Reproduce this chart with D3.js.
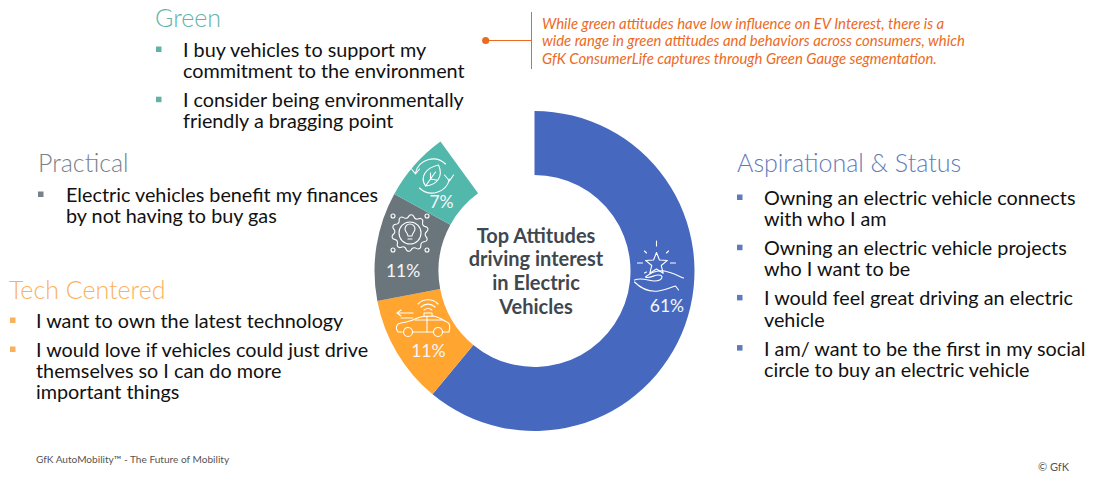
<!DOCTYPE html>
<html>
<head>
<meta charset="utf-8">
<script src="https://cdn.jsdelivr.net/npm/d3@7"></script>
<style>
  html, body { margin: 0; padding: 0; background: #fff; }
  svg { display: block; font-family: Lato, "Open Sans", sans-serif; }
</style>
</head>
<body>
<div id="chart"></div>
<script>
// slices (they only add up to 90, the ring stays open at the top left)
var segments = ["Aspirational & Status", "Tech Centered", "Practical", "Green"];
var shares = [61, 11, 11, 7];
var sliceColors = ["#4669BF", "#FFA530", "#6B767C", "#52B8AC"];
var wholeRing = 100;
var centerLines = ["Top Attitudes", "driving interest", "in Electric", "Vehicles"];

var greenBullets = [["I buy vehicles to support my", "commitment to the environment"],
                    ["I consider being environmentally", "friendly a bragging point"]];
var practicalBullets = [["Electric vehicles benefit my finances", "by not having to buy gas"]];
var techBullets = [["I want to own the latest technology"],
                   ["I would love if vehicles could just drive", "themselves so I can do more", "important things"]];
var aspirationalBullets = [["Owning an electric vehicle connects", "with who I am"],
                           ["Owning an electric vehicle projects", "who I want to be"],
                           ["I would feel great driving an electric", "vehicle"],
                           ["I am/ want to be the first in my social", "circle to buy an electric vehicle"]];
var noteLines = ["While green attitudes have low influence on EV Interest, there is a",
                 "wide range in green attitudes and behaviors across consumers, which",
                 "GfK ConsumerLife captures through Green Gauge segmentation."];

var width = 1101, height = 483;
var cx = 534.5, cy = 271, outerR = 160, innerR = 96;

var svg = d3.select("#chart").append("svg")
    .attr("width", width)
    .attr("height", height);

// donut
var pie = d3.pie().sort(null).startAngle(0)
    .endAngle(2 * Math.PI * d3.sum(shares) / wholeRing);
var arc = d3.arc().innerRadius(innerR).outerRadius(outerR);

var donut = svg.append("g").attr("transform", "translate(" + cx + "," + cy + ")");
donut.selectAll("path")
    .data(pie(shares))
    .enter().append("path")
    .attr("d", arc)
    .attr("fill", function (d, i) { return sliceColors[i]; });

// label offset from each slice centroid
var labelNudge = [[12, -2], [4, 21], [-5, 26], [3, 22]];
donut.selectAll("text.pct")
    .data(pie(shares))
    .enter().append("text")
    .attr("class", "pct")
    .text(function (d) { return d.value + "%"; })
    .attr("text-anchor", "middle")
    .attr("x", function (d, i) { return arc.centroid(d)[0] + labelNudge[i][0]; })
    .attr("y", function (d, i) { return arc.centroid(d)[1] + labelNudge[i][1]; })
    .attr("fill", "#f4f6fa")
    .attr("font-size", 17.5)
    .attr("font-weight", 400);

// center text
svg.selectAll("text.center")
    .data(centerLines)
    .enter().append("text")
    .attr("class", "center")
    .text(function (d) { return d; })
    .attr("x", 536)
    .attr("y", function (d, i) { return 242.5 + i * 23.7; })
    .attr("text-anchor", "middle")
    .attr("fill", "#3F474F")
    .attr("font-size", 20)
    .attr("font-weight", 700);

// text blocks around the ring
function block(title, color, titleX, titleY, squareX, textX, firstY, gap, items) {
    svg.append("text").text(title)
        .attr("x", titleX).attr("y", titleY)
        .attr("fill", color)
        .attr("font-size", 25)
        .attr("font-weight", 300);
    var y = firstY;
    items.forEach(function (lines) {
        svg.append("rect")
            .attr("x", squareX).attr("y", y - 10.5)
            .attr("width", 5.5).attr("height", 5.5)
            .attr("fill", color);
        lines.forEach(function (line, j) {
            svg.append("text").text(line)
                .attr("x", textX).attr("y", y + j * 21.2)
                .attr("fill", "#111")
                .attr("font-size", 19.8);
        });
        y += (lines.length - 1) * 21.2 + gap;
    });
}
block("Green", "#62B3A6", 155, 27, 156, 183, 57, 29, greenBullets);
block("Practical", "#78828A", 38, 172, 38, 66, 202, 29, practicalBullets);
block("Tech Centered", "#FBB15C", 9, 299, 10, 36, 328, 29, techBullets);
block("Aspirational & Status", "#5F7CB8", 737, 172, 737, 764, 205, 29, aspirationalBullets);

// note with its leader line
var noteColor = "#EC6A1E";
svg.append("line").attr("x1", 531.5).attr("x2", 531.5).attr("y1", 12).attr("y2", 69)
    .attr("stroke", noteColor).attr("stroke-width", 1);
svg.append("line").attr("x1", 486).attr("x2", 531.5).attr("y1", 40.5).attr("y2", 40.5)
    .attr("stroke", noteColor).attr("stroke-width", 1);
svg.append("circle").attr("cx", 485.7).attr("cy", 40.5).attr("r", 3.6).attr("fill", noteColor);
svg.selectAll("text.note")
    .data(noteLines)
    .enter().append("text")
    .attr("class", "note")
    .text(function (d) { return d; })
    .attr("x", 542)
    .attr("y", function (d, i) { return 29 + i * 17.4; })
    .attr("fill", noteColor)
    .attr("font-size", 14.9)
    .attr("font-style", "italic");

// footer
svg.append("text").text("GfK AutoMobility\u2122 - The Future of Mobility")
    .attr("x", 36).attr("y", 463)
    .attr("fill", "#555").attr("font-size", 10.1);
svg.append("text").text("\u00A9 GfK")
    .attr("x", 1038).attr("y", 471)
    .attr("fill", "#555").attr("font-size", 11);

// line icons
function icon(x, y) {
    return svg.append("g")
        .attr("transform", "translate(" + x + "," + y + ")")
        .attr("fill", "none")
        .attr("stroke", "#fff")
        .attr("stroke-width", 1.1)
        .attr("stroke-linecap", "round")
        .attr("stroke-linejoin", "round");
}

// star in a hand
var star = icon(656.5, 262);
var starPts = d3.range(10).map(function (i) {
    var a = i * Math.PI / 5, r = i % 2 ? 5 : 11.5;
    return [r * Math.sin(a), -r * Math.cos(a)];
});
star.append("path").attr("d", d3.line()(starPts) + "Z").attr("transform", "translate(0,2)");
star.append("path").attr("d", "M0,-21V-16M-19,1H-14M14,1H19M-12,-11L-10,-9M12,-11L10,-9M-12,11L-10,10");
star.append("path").attr("d", "M-22,18C-14,15 -8,19 -2,19C6,19 8,13 2,13C-3,13 -7,17 -11,15C-5,10 2,8 8,9C14,10 20,13 27,16");
star.append("path").attr("d", "M-22,20C-14,28 -6,30 2,29C10,28 15,25 19,24L22,28");

// car with signal
var car = icon(423, 326);
car.append("path").attr("d", "M-21,6H-25C-28,2 -27,-2 -22,-3C-16,-4 -12,-5 -8,-7C-3,-10 3,-10 10,-10C16,-9 20,-6 24,-4C27,-3 27,2 26,6H20M10,6H-10");
car.append("circle").attr("cx", -15).attr("cy", 6).attr("r", 4.5);
car.append("circle").attr("cx", 15).attr("cy", 6).attr("r", 4.5);
car.append("path").attr("d", "M-8,-6H20M4,-10V6");
car.append("path").attr("d", "M1,-10V-13H9V-10");
car.append("path").attr("d", "M1,-16A6,6 0 0 1 9,-16M-2,-19A10,10 0 0 1 12,-19M-5,-22A14,14 0 0 1 15,-22");
car.append("path").attr("d", "M-26,-13H-10M-26,-13L-22,-16M-26,-13L-22,-10M-22,-8H-10");

// gear with bulb
var gear = icon(410, 233);
var teeth = 10;
var gearPts = d3.range(teeth * 4).map(function (i) {
    var a = i * Math.PI / (teeth * 2), r = (i % 4 < 2) ? 18 : 15.5;
    return [r * Math.sin(a), -r * Math.cos(a)];
});
gear.append("path").attr("d", d3.line().curve(d3.curveCardinalClosed)(gearPts));
gear.append("circle").attr("r", 11);
gear.append("path").attr("d", "M-2,6H2M-2,3C-2,0 -5,-1 -5,-4A5,5 0 0 1 5,-4C5,-1 2,0 2,3Z");
[[-17, -17], [17, -17], [-17, 17], [17, 17]].forEach(function (p) {
    gear.append("circle").attr("cx", p[0]).attr("cy", p[1]).attr("r", 2);
});

// leaf in arrows
var leaf = icon(432.5, 176);
leaf.append("path").attr("d", "M-17,-3A18,18 0 0 1 13,-12M17,3A18,18 0 0 1 -13,12");
leaf.append("path").attr("d", "M-21,-7L-17,-2L-13,-7M12,-1L17,5L21,-1");
leaf.append("path").attr("d", "M-7,10C-13,1 -7,-8 6,-11C11,0 5,9 -7,10ZM-7,10L3,-4M-2,3V-3M-2,3L4,4");
</script>
</body>
</html>
